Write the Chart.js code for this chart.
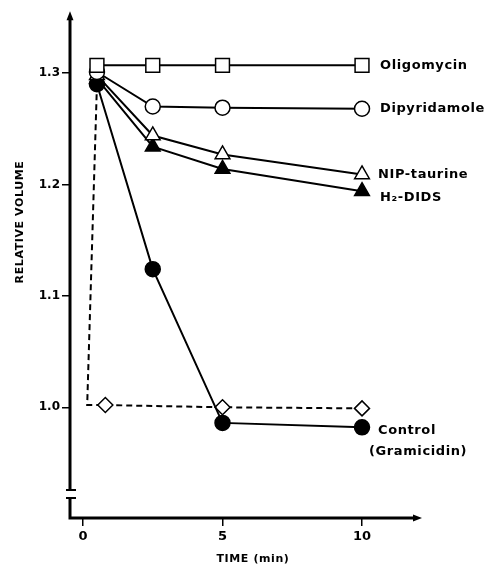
<!DOCTYPE html>
<html>
<head>
<meta charset="utf-8">
<script src="https://cdn.jsdelivr.net/npm/chart.js@4/dist/chart.umd.min.js"></script>
<style>
  html, body { margin: 0; padding: 0; background: #fff; }
  #wrap { width: 489px; height: 570px; }
</style>
</head>
<body>
<div id="wrap"><canvas id="myChart"></canvas></div>
<script>
// values
let timeMin = [0.5, 2.5, 5, 10];
let oligomycin = [1.307, 1.307, 1.307, 1.307];
let dipyridamole = [1.301, 1.270, 1.269, 1.268];
let nipTaurine = [1.298, 1.244, 1.227, 1.209];
let h2Dids = [1.295, 1.234, 1.214, 1.194];
let control = [1.290, 1.124, 0.986, 0.982];
// dashed trace (diamonds), first two points are the drop without markers
let dashTime = [0.5, 0.15, 0.8, 5, 10];
let dashVolume = [1.290, 1.002, 1.002, 1.0, 0.999];

let yTicks = [1.0, 1.1, 1.2, 1.3];
let yTickLabels = ['1.0', '1.1', '1.2', '1.3'];
let xTicks = [0, 5, 10];
let xTickLabels = ['0', '5', '10'];
let seriesNames = ['Oligomycin', 'Dipyridamole', 'NIP-taurine', 'H\u2082-DIDS', 'Control'];

function pts(xs, ys) {
    return xs.map((x, i) => ({ x: x, y: ys[i] }));
}

function series(label, ys, style, radius, fill) {
    return {
        label: label,
        data: pts(timeMin, ys),
        showLine: true,
        borderColor: '#000',
        borderWidth: 2,
        pointStyle: style,
        pointRadius: radius,
        pointBackgroundColor: fill,
        pointBorderColor: '#000',
        pointBorderWidth: 1.5
    };
}

// axes, arrows, break marks and text
const decor = {
    id: 'decor',
    afterDraw(chart) {
        let ctx = chart.ctx;
        let xs = chart.scales.x, ys = chart.scales.y;
        let ax = xs.left, ay = ys.bottom;
        ctx.save();
        ctx.strokeStyle = '#000';
        ctx.fillStyle = '#000';
        ctx.lineWidth = 3;
        ctx.lineCap = 'butt';
        // y axis, broken near the bottom
        ctx.beginPath();
        ctx.moveTo(ax, ys.top + 6);
        ctx.lineTo(ax, 490);
        ctx.moveTo(ax, 498);
        ctx.lineTo(ax, ay);
        ctx.lineTo(xs.right - 7, ay);
        ctx.stroke();
        ctx.lineWidth = 2;
        ctx.beginPath();
        ctx.moveTo(ax - 4, 490);
        ctx.lineTo(ax + 6, 490);
        ctx.moveTo(ax - 4, 498);
        ctx.lineTo(ax + 6, 498);
        ctx.stroke();
        // arrow heads
        ctx.beginPath();
        ctx.moveTo(ax, ys.top);
        ctx.lineTo(ax - 3.5, ys.top + 9);
        ctx.lineTo(ax + 3.5, ys.top + 9);
        ctx.closePath();
        ctx.fill();
        ctx.beginPath();
        ctx.moveTo(xs.right, ay);
        ctx.lineTo(xs.right - 9, ay - 3.5);
        ctx.lineTo(xs.right - 9, ay + 3.5);
        ctx.closePath();
        ctx.fill();

        // series labels at the right
        ctx.font = 'bold 13px "DejaVu Sans"';
        ctx.letterSpacing = '0.6px';
        ctx.textBaseline = 'middle';
        ctx.textAlign = 'left';
        let lastX = xs.getPixelForValue(10);
        let rows = [oligomycin, dipyridamole, nipTaurine, h2Dids, control];
        let dx = [18, 18, 16, 18, 16];
        let dy = [0, 0, 0, 6, 3];
        rows.forEach((r, i) => {
            let py = ys.getPixelForValue(r[r.length - 1]);
            ctx.fillText(seriesNames[i], lastX + dx[i], py + dy[i]);
        });
        ctx.fillText('(Gramicidin)', lastX + 7, ys.getPixelForValue(control[3]) + 24);

        // axis titles
        ctx.font = 'bold 11px "DejaVu Sans"';
        ctx.letterSpacing = '0.6px';
        ctx.textAlign = 'center';
        ctx.fillText('TIME (min)', 253, 559);
        ctx.translate(20, 222);
        ctx.rotate(-Math.PI / 2);
        ctx.fillText('RELATIVE VOLUME', 0, 0);
        ctx.restore();
    }
};

var ctx = document.getElementById('myChart').getContext('2d');
var chart = new Chart(ctx, {
    type: 'scatter',
    data: {
        datasets: [
            series('Oligomycin', oligomycin, 'rect', 9.8, '#fff'),
            series('Dipyridamole', dipyridamole, 'circle', 7.5, '#fff'),
            series('NIP-taurine', nipTaurine, 'triangle', 8.5, '#fff'),
            series('H2-DIDS', h2Dids, 'triangle', 8.5, '#000'),
            series('Control', control, 'circle', 7.5, '#000'),
            {
                label: 'dashed',
                data: pts(dashTime, dashVolume),
                showLine: true,
                borderColor: '#000',
                borderWidth: 2,
                borderDash: [6, 4],
                pointStyle: 'rectRot',
                pointRadius: [0, 0, 7.5, 7.5, 7.5],
                pointBackgroundColor: '#fff',
                pointBorderColor: '#000',
                pointBorderWidth: 1.5
            }
        ]
    },
    options: {
        responsive: true,
        maintainAspectRatio: false,
        animation: false,
        layout: { padding: { top: 10, right: 67, left: 0, bottom: 0 } },
        plugins: { legend: { display: false }, tooltip: { enabled: false } },
        scales: {
            x: {
                type: 'linear',
                min: -0.466,
                max: 12.15,
                afterFit: (s) => { s.height = 52; },
                afterBuildTicks: (s) => { s.ticks = xTicks.map(v => ({ value: v })); },
                border: { display: false },
                grid: { drawOnChartArea: false, color: '#000', lineWidth: 1.5, tickLength: 8 },
                ticks: {
                    color: '#000',
                    padding: 3,
                    font: { family: 'DejaVu Sans', size: 13, weight: 'bold' },
                    callback: (v) => xTickLabels[xTicks.indexOf(v)]
                }
            },
            y: {
                type: 'linear',
                min: 0.9006,
                max: 1.3555,
                afterFit: (s) => { s.width = 70; },
                afterBuildTicks: (s) => { s.ticks = yTicks.map(v => ({ value: v })); },
                border: { display: false },
                grid: { drawOnChartArea: false, color: '#000', lineWidth: 1.5, tickLength: 8 },
                ticks: {
                    color: '#000',
                    padding: 2,
                    font: { family: 'DejaVu Sans', size: 12, weight: 'bold' },
                    callback: (v) => yTickLabels[yTicks.findIndex(t => Math.abs(t - v) < 1e-6)]
                }
            }
        }
    },
    plugins: [decor]
});
</script>
</body>
</html>
